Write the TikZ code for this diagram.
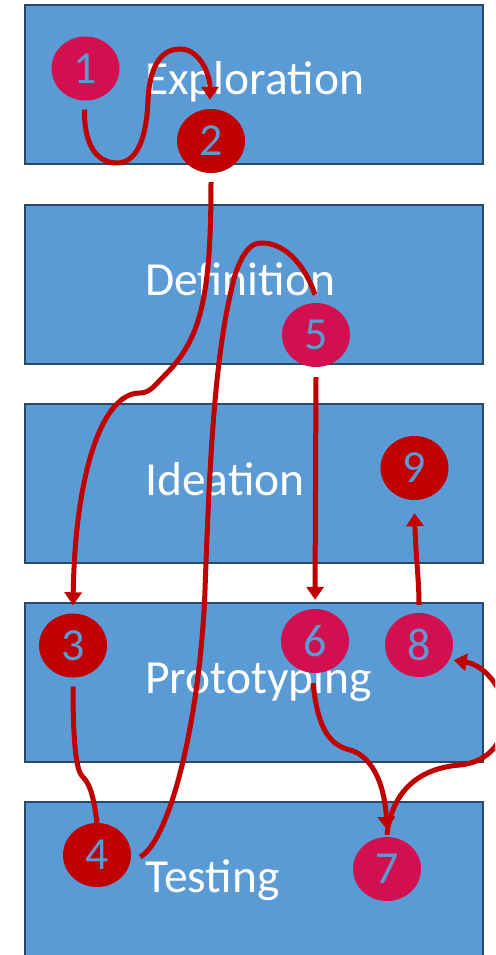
\documentclass[tikz,border=0pt]{standalone}
\usepackage{fontspec}
\setmainfont{Carlito}
\usetikzlibrary{arrows.meta,shapes.geometric,calc}
\definecolor{boxfill}{HTML}{5B9BD5}
\definecolor{boxline}{HTML}{2A4868}
\definecolor{crim}{HTML}{D21050}
\definecolor{dred}{HTML}{C00000}
\begin{document}
\begin{tikzpicture}[x=1pt,y=-1pt,
 stage/.style={draw=boxline, line width=2.2pt, fill=boxfill, minimum width=458pt, minimum height=159pt, inner sep=0pt, anchor=north west},
 lbl/.style={text=white, font=\fontsize{47.5}{52}\selectfont, inner sep=0pt, anchor=base west},
 numc/.style={ellipse, minimum width=68pt, minimum height=64pt, inner sep=0pt, text=boxfill, font=\fontsize{46}{50}\selectfont},
 pink/.style={numc, fill=crim},
 dark/.style={numc, fill=dred},
 flow/.style={draw=dred, line width=5pt, -{Triangle[width=17pt,length=13pt]}},
 flown/.style={draw=dred, line width=5pt}]
\clip (0,0) rectangle (495,955);
% stages
\node[stage] (b1) at (24,4) {};
\node[stage] (b2) at (24,204) {};
\node[stage] (b3) at (24,403) {};
\node[stage] (b4) at (24,602) {};
\node[stage] (b5) at (24,801) {};
\node[lbl] (t1) at (145,95) {Exploration};
\node[lbl] (t2) at (145,295) {Definition};
\node[lbl] (t3) at (145,495) {Ideation};
\node[lbl] (t4) at (145,693) {Prototyping};
\node[lbl] (t5) at (145,892) {Testing};
% numbered steps
\node[pink] (c1) at (85.5,68.5) {1};
\node[dark] (c2) at (211,141) {2};
\node[dark] (c3) at (73,645.5) {3};
\node[dark] (c4) at (97,855) {4};
\node[pink] (c5) at (316,335) {5};
\node[pink] (c6) at (315,641) {6};
\node[pink] (c7) at (387,869) {7};
\node[pink] (c8) at (419,645) {8};
\node[dark] (c9) at (414.5,468) {9};
% connectors
\draw[flow] ($(c1.south)+(-1,9)$) .. controls (84,150) and (100,163) .. (117,163)
  .. controls (140,163) and (147,130) .. (148,100)
  .. controls (150,60) and (165,49) .. (180,49)
  .. controls (200,49) and (210,75) .. ($(c2.north)+(-1,-9)$);
\draw[flow] ($(c2.south)+(0,9)$) .. controls (211,300) and (200,340) .. (165,375)
  .. controls (155,385) and (150,393) .. (140,393)
  .. controls (100,393) and (75,480) .. ($(c3.north)+(0,-8)$);
\draw[flown] ($(c3.south)+(0,9)$) .. controls (73,740) and (76,770) .. (82,776)
  .. controls (88,782) and (93,790) .. (c4.north);
\draw[flown] ($(c4.east)+(9,2)$) .. controls (170,840) and (200,720) .. (205,590)
  .. controls (210,450) and (215,350) .. (235,275)
  .. controls (245,245) and (255,243) .. (262,243)
  .. controls (285,243) and (305,265) .. ($(c5.north)+(-1,-8)$);
\draw[flow] ($(c5.south)+(0,10)$) -- ($(c6.north)+(0,-9)$);
\draw[flow] ($(c6.south)+(-2,10)$) .. controls (318,730) and (330,745) .. (350,750)
  .. controls (375,757) and (385,790) .. ($(c7.north)+(0,-7)$);
\draw[flow] ($(c7.north)+(0,-2)$) .. controls (392,790) and (420,768) .. (460,765)
  .. controls (490,762) and (505,740) .. (505,715)
  .. controls (505,690) and (485,665) .. ($(c8.-25)+(4,1)$);
\draw[flow] ($(c8.north)+(0,-8)$) .. controls (419,580) and (416,560) .. ($(c9.south)+(0,13)$);
\end{tikzpicture}
\end{document}
